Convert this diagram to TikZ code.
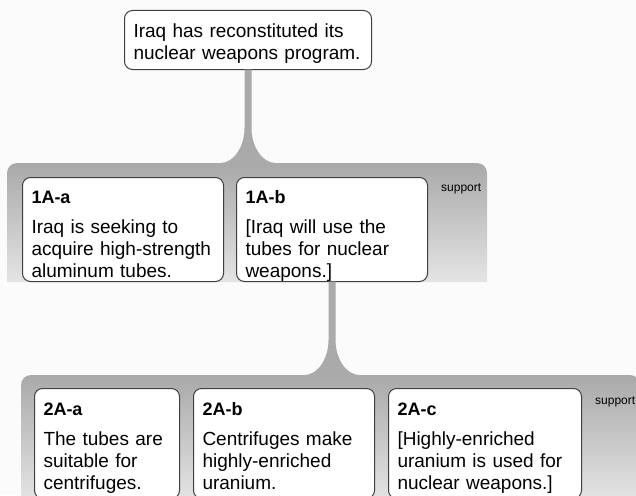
\documentclass[tikz,border=0pt]{standalone}
\usepackage{fontspec}
\setmainfont{Liberation Sans}
\usetikzlibrary{positioning}

\definecolor{linkgray}{HTML}{AAAAAA}
\definecolor{bandtop}{HTML}{A9A9A9}
\definecolor{bandbottom}{HTML}{E4E4E4}
\definecolor{cardline}{HTML}{404040}
\definecolor{pagebg}{HTML}{FBFBFB}

% bold heading line of a card
\newcommand{\cardhead}[1]{{\fontsize{18}{22}\selectfont\bfseries #1}\\[8pt]}

% grey stem with a flared foot, from #1 straight down to #2
\newcommand{\stemlink}[2]{%
  \fill[linkgray] ([xshift=-3.5pt,yshift=0.3pt]#1) -- ([xshift=-3.5pt,yshift=35pt]#2)
    .. controls ([xshift=-3.5pt,yshift=16pt]#2) and ([xshift=-14.5pt]#2) .. ([xshift=-27.5pt]#2)
    -- ([xshift=-27.5pt,yshift=-1pt]#2) -- ([xshift=27.5pt,yshift=-1pt]#2) -- ([xshift=27.5pt]#2)
    .. controls ([xshift=14.5pt]#2) and ([xshift=3.5pt,yshift=16pt]#2) .. ([xshift=3.5pt,yshift=35pt]#2)
    -- ([xshift=3.5pt,yshift=0.3pt]#1) -- cycle;}

\begin{document}
\begin{tikzpicture}[x=1pt,y=-1pt,node distance=12pt,
    card/.style={draw=cardline,line width=1pt,fill=white,rounded corners=8pt,
      align=left,inner xsep=9pt,inner ysep=8pt,font=\fontsize{19}{22}\selectfont},
    row1/.style={card,text height=18pt,text depth=70pt},
    row2/.style={card,text height=19pt,text depth=75pt},
    band/.style={top color=bandtop,bottom color=bandbottom},
    tag/.style={font=\fontsize{12}{14}\selectfont,inner sep=0pt,anchor=west}]
  \useasboundingbox (0,0) rectangle (636,495);
  \clip (0,0) rectangle (636,495);
  \fill[pagebg] (0,0) rectangle (636,495);

  % support groups
  \coordinate (band1) at (7,163);
  \coordinate (band2) at (21,375);
  \shade[band] (7,282) -- (7,173) arc[start angle=180,end angle=90,radius=10pt]
    -- (477,163) arc[start angle=90,end angle=0,radius=10pt] -- (487,282) -- cycle;
  \shade[band] (21,500) -- (21,385) arc[start angle=180,end angle=90,radius=10pt]
    -- (630,375) arc[start angle=90,end angle=0,radius=10pt] -- (640,500) -- cycle;
  \node[tag] (sup1) at (441,189) {support};
  \node[tag] (sup2) at (595,402) {support};

  \node[card,anchor=north west,text width=229pt,text height=19pt,text depth=24pt] (claim) at (124,10)
    {Iraq has reconstituted its\\nuclear weapons program.};

  \node[row1,anchor=north west,text width=183pt] (1Aa) at (22,177)
    {\cardhead{1A-a}Iraq is seeking to\\acquire high-strength\\aluminum tubes.};
  \node[row1,text width=173pt] (1Ab) [right=of 1Aa]
    {\cardhead{1A-b}{[}Iraq will use the\\tubes for nuclear\\weapons.]};

  \node[row2,anchor=north west,text width=127pt] (2Aa) at (34,388)
    {\cardhead{2A-a}The tubes are\\suitable for\\centrifuges.};
  \node[row2,text width=163pt] (2Ab) [right=13pt of 2Aa]
    {\cardhead{2A-b}Centrifuges make\\highly-enriched\\uranium.};
  \node[row2,text width=175pt] (2Ac) [right=13pt of 2Ab]
    {\cardhead{2A-c}{[}Highly-enriched\\uranium is used for\\nuclear weapons.]};

  \coordinate (j1) at (claim.south |- band1);
  \coordinate (j2) at (1Ab.south |- band2);
  \stemlink{claim.south}{j1}
  \stemlink{1Ab.south}{j2}
\end{tikzpicture}
\end{document}
